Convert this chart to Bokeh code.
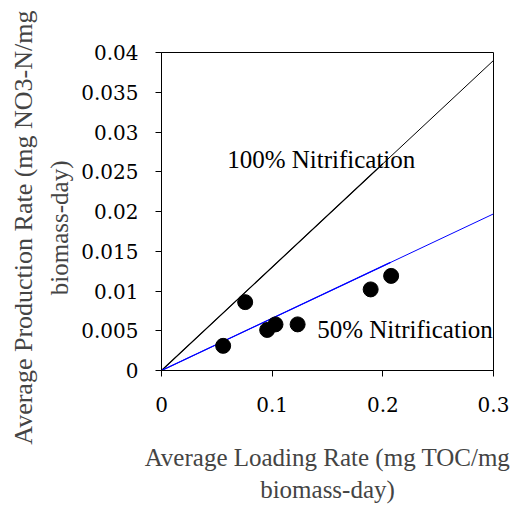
from bokeh.plotting import figure
from bokeh.models import Range1d, Title, FixedTicker, CustomJSTickFormatter
from bokeh.core.properties import value
from bokeh.embed import file_html
from bokeh.resources import INLINE

FONT = "Liberation Serif"
TICK_FONT = "DejaVu Serif"

# Data
load_rate = [0.0557, 0.0756, 0.0955, 0.103, 0.123, 0.189, 0.2075]
prod_rate = [0.0031, 0.0086, 0.0051, 0.0058, 0.0058, 0.0102, 0.0119]

line_x = [0.0, 0.3]
full_nitr = [0.0, 0.039]
half_nitr = [0.0, 0.0197]
full_part_x = [0.0, 0.2]
full_part_y = [0.0, 0.026]
half_part_x = [0.0, 0.207]
half_part_y = [0.0, 0.0136]

x_ticks = [0, 0.1, 0.2, 0.3]
y_ticks = [0, 0.005, 0.01, 0.015, 0.02, 0.025, 0.03, 0.035, 0.04]

label_text = ["100% Nitrification", "50% Nitrification"]
label_x = [0.0593, 0.1407]
label_y = [0.0266, 0.0051]

p = figure(frame_width=332, frame_height=318,
           min_border_left=161, min_border_right=28,
           min_border_top=52, min_border_bottom=136,
           x_range=Range1d(0, 0.3), y_range=Range1d(0, 0.04),
           output_backend="svg", toolbar_location=None)

p.grid.visible = False
p.outline_line_color = "black"
p.outline_line_width = 1
p.background_fill_color = "white"
p.border_fill_color = "white"

p.line(line_x, full_nitr, line_color="black", line_width=1)
p.line(full_part_x, full_part_y, line_color="black", line_width=1.2)
p.line(line_x, half_nitr, line_color="#0000FF", line_width=1)
p.line(half_part_x, half_part_y, line_color="#0000FF", line_width=1.2)

p.scatter(load_rate, prod_rate, size=15, fill_color="black", line_color="black")

p.text(x=label_x, y=label_y, text=label_text, text_font=value(FONT),
       text_font_size="25px", text_align="left", text_baseline="middle",
       text_color="black")

fmt = CustomJSTickFormatter(code="return String(Number(tick.toFixed(4)));")
for ax in (p.xaxis[0], p.yaxis[0]):
    ax.axis_line_color = "black"
    ax.major_tick_line_color = "black"
    ax.minor_tick_line_color = None
    ax.major_tick_in = 0
    ax.major_tick_out = 6
    ax.major_label_text_font = TICK_FONT
    ax.major_label_text_font_size = "20px"
    ax.major_label_text_color = "black"
    ax.formatter = fmt

p.xaxis[0].ticker = FixedTicker(ticks=x_ticks)
p.yaxis[0].ticker = FixedTicker(ticks=y_ticks)
p.xaxis[0].major_label_standoff = 20
p.yaxis[0].major_label_standoff = 17

p.xaxis[0].axis_label = "Average Loading Rate (mg TOC/mg\nbiomass-day)"
p.xaxis[0].axis_label_text_font = FONT
p.xaxis[0].axis_label_text_font_size = "25px"
p.xaxis[0].axis_label_text_font_style = "normal"
p.xaxis[0].axis_label_standoff = 29

t2 = Title(text="biomass-day)", align="right", offset=108,
           text_font=FONT, text_font_size="25px", text_font_style="normal",
           standoff=12)
t1 = Title(text="Average Production Rate (mg NO3-N/mg", align="right", offset=-42,
           text_font=FONT, text_font_size="26px", text_font_style="normal",
           standoff=0)
p.add_layout(t2, "left")
p.add_layout(t1, "left")

open("out.html", "w").write(file_html(p, INLINE))
